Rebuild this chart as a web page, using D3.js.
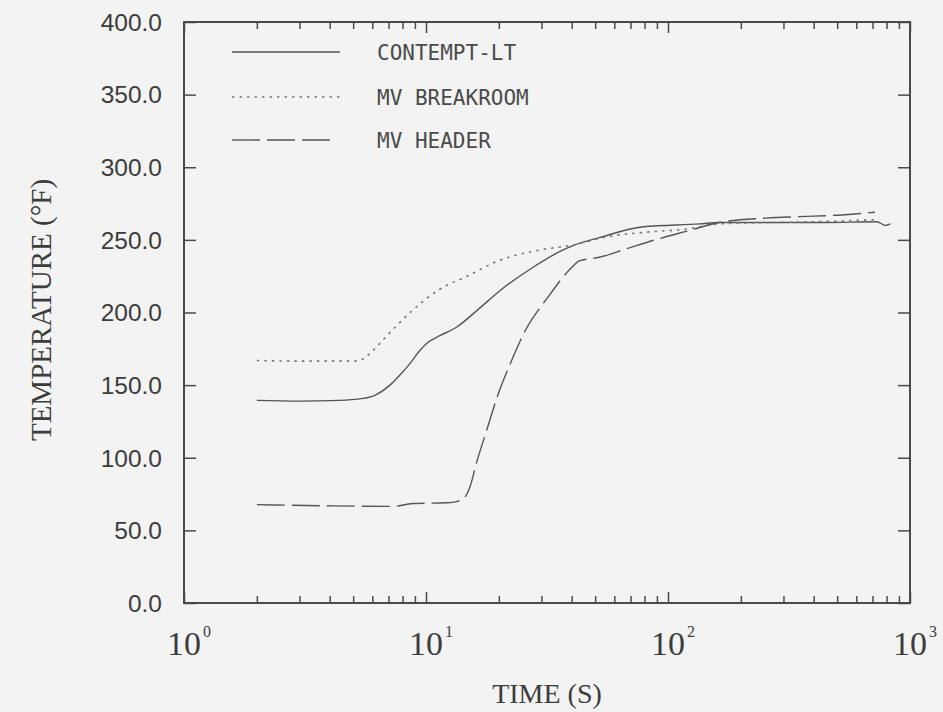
<!DOCTYPE html>
<html>
<head>
<meta charset="utf-8">
<script src="https://cdn.jsdelivr.net/npm/d3@7"></script>
<style>
  html, body { margin: 0; padding: 0; background: #f3f3f3; }
  svg { display: block; }
</style>
</head>
<body>
<svg id="chart" width="943" height="712"></svg>
<script>
// Time (s) and temperature (°F) for each curve
const timeContempt = [2.0, 3.0, 4.4, 5.3, 6.15, 7.1, 7.8, 8.6, 9.45, 10.2, 11.4, 13.4, 16.4, 20.2, 27.6, 35.8, 40.5, 52, 79, 135, 163, 240, 450, 730, 790, 830];
const tempContempt = [139.5, 139, 139.5, 140.5, 143, 150, 157, 165, 174, 179.5, 184, 190, 202, 215, 231, 242, 246, 251.5, 259, 261, 262, 262, 262, 262.5, 260, 261];

const timeBreakroom = [2.0, 3.0, 5.2, 5.7, 6.3, 6.9, 8.6, 11.4, 14.8, 20.2, 29.5, 40.5, 57.6, 84, 120, 163, 290, 515, 730];
const tempBreakroom = [167, 166.5, 166.5, 170, 177, 184, 200, 216, 225, 236, 243, 246.5, 252.5, 255.5, 257.5, 261, 262, 263, 264];

const timeHeader = [2.0, 3.65, 7.3, 8.8, 12.2, 13.5, 14.5, 15.2, 16.2, 17.9, 19.7, 22.2, 26, 31.4, 40, 43, 52, 67.6, 92.6, 120, 163, 255, 350, 500, 716];
const tempHeader = [67.7, 67, 66.5, 68.5, 69, 70, 73, 80, 97, 120, 142, 164, 189, 209, 231, 235.5, 238, 244, 251, 256, 262, 265, 266, 267, 269];

const seriesNames = ["CONTEMPT-LT", "MV BREAKROOM", "MV HEADER"];
const yTicks = [0, 50, 100, 150, 200, 250, 300, 350, 400];
const xDecades = [1, 10, 100, 1000];

const svg = d3.select("#chart");
const ink = "#4a4a4a";

const x = d3.scaleLog().domain([1, 1000]).range([184, 910]);
const y = d3.scaleLinear().domain([0, 400]).range([603, 22]);

// minor ticks 2..9 in each decade
const xMinor = [];
[1, 10, 100].forEach(d => { for (let k = 2; k <= 9; k++) xMinor.push(d * k); });

function styleAxis(g) {
  g.select(".domain").remove();
  g.selectAll(".tick line").attr("stroke", ink).attr("stroke-width", 1.5);
  g.selectAll("text").remove();
}

// frame
svg.append("rect")
  .attr("x", x(1)).attr("y", y(400))
  .attr("width", x(1000) - x(1)).attr("height", y(0) - y(400))
  .attr("fill", "none").attr("stroke", ink).attr("stroke-width", 2);

// bottom and top axes, ticks pointing inward
svg.append("g").attr("transform", `translate(0,${y(0)})`)
  .call(d3.axisBottom(x).tickValues(xMinor).tickSize(-7)).call(styleAxis);
svg.append("g").attr("transform", `translate(0,${y(0)})`)
  .call(d3.axisBottom(x).tickValues(xDecades).tickSize(-11)).call(styleAxis);
svg.append("g").attr("transform", `translate(0,${y(400)})`)
  .call(d3.axisTop(x).tickValues(xMinor).tickSize(-7)).call(styleAxis);
svg.append("g").attr("transform", `translate(0,${y(400)})`)
  .call(d3.axisTop(x).tickValues(xDecades).tickSize(-11)).call(styleAxis);

// left and right axes
svg.append("g").attr("transform", `translate(${x(1)},0)`)
  .call(d3.axisLeft(y).tickValues(yTicks).tickSize(-12)).call(styleAxis);
svg.append("g").attr("transform", `translate(${x(1000)},0)`)
  .call(d3.axisRight(y).tickValues(yTicks).tickSize(-12)).call(styleAxis);

// y tick labels
svg.append("g").selectAll("text").data(yTicks).join("text")
  .attr("x", 162).attr("y", d => y(d)).attr("dy", "0.36em")
  .attr("text-anchor", "end")
  .attr("font-family", "'Liberation Sans', Arial, sans-serif")
  .attr("font-size", 24.5).attr("fill", "#3c3c3c")
  .text(d => d.toFixed(1));

// x tick labels as powers of ten
const xl = svg.append("g").selectAll("g").data(xDecades).join("g");
xl.append("text")
  .attr("x", d => x(d)).attr("y", 655)
  .attr("text-anchor", "middle")
  .attr("font-family", "'Liberation Serif', 'Times New Roman', serif")
  .attr("font-size", 34).attr("fill", "#3c3c3c")
  .text("10");
xl.append("text")
  .attr("x", d => x(d) + 19).attr("y", 637)
  .attr("font-family", "'Liberation Serif', 'Times New Roman', serif")
  .attr("font-size", 16).attr("fill", "#3c3c3c")
  .text(d => Math.round(Math.log10(d)));

// axis titles
svg.append("text")
  .attr("x", 547).attr("y", 703)
  .attr("text-anchor", "middle")
  .attr("font-family", "'Liberation Serif', 'Times New Roman', serif")
  .attr("font-size", 28).attr("fill", "#3c3c3c")
  .text("TIME (S)");
svg.append("text")
  .attr("transform", "translate(51,310) rotate(-90)")
  .attr("text-anchor", "middle")
  .attr("font-family", "'Liberation Serif', 'Times New Roman', serif")
  .attr("font-size", 29).attr("fill", "#3c3c3c")
  .text("TEMPERATURE (°F)");

// curves
const dashes = [null, "2.5,5", "28,7"];
const series = [
  { t: timeContempt, v: tempContempt },
  { t: timeBreakroom, v: tempBreakroom },
  { t: timeHeader, v: tempHeader }
];
const line = d3.line()
  .x(d => x(d[0])).y(d => y(d[1]))
  .curve(d3.curveMonotoneX);

series.forEach((s, i) => {
  svg.append("path")
    .datum(s.t.map((t, j) => [t, s.v[j]]))
    .attr("d", line)
    .attr("fill", "none")
    .attr("stroke", i === 1 ? "#777" : "#555")
    .attr("stroke-width", i === 1 ? 1.6 : 1.4)
    .attr("stroke-dasharray", dashes[i]);
});

// legend
const legendY = [52, 97, 140];
const lg = svg.append("g").selectAll("g").data(seriesNames).join("g");
lg.append("line")
  .attr("x1", 232).attr("x2", (d, i) => i === 2 ? 333 : 340)
  .attr("y1", (d, i) => legendY[i]).attr("y2", (d, i) => legendY[i])
  .attr("stroke", (d, i) => i === 1 ? "#777" : "#555")
  .attr("stroke-width", (d, i) => i === 1 ? 1.6 : 1.4)
  .attr("stroke-dasharray", (d, i) => dashes[i]);
lg.append("text")
  .attr("x", 377).attr("y", (d, i) => legendY[i]).attr("dy", "0.36em")
  .attr("font-family", "'DejaVu Sans Mono', 'Liberation Mono', monospace")
  .attr("font-size", 21).attr("fill", "#4a4a4a")
  .text(d => d);
</script>
</body>
</html>
